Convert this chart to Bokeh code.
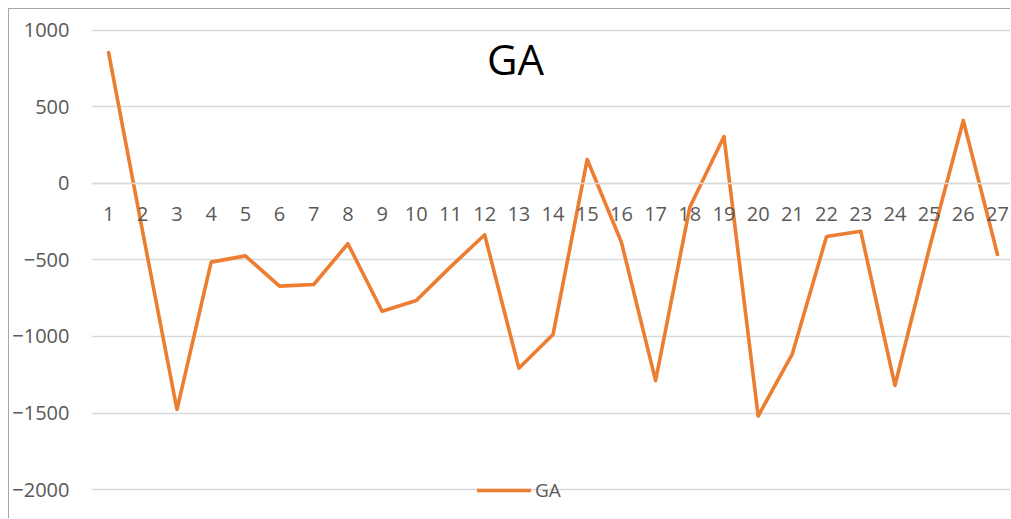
from bokeh.plotting import figure
from bokeh.models import Range1d, FixedTicker, Label
from bokeh.embed import file_html
from bokeh.resources import INLINE

categories = [str(i) for i in range(1, 28)]
ga_values = [855, -320, -1477, -514, -473, -671, -660, -394, -835, -765,
             -545, -335, -1207, -987, 157, -384, -1288, -155, 307, -1520,
             -1113, -346, -312, -1320, -430, 412, -464]
y_ticks = [-2000, -1500, -1000, -500, 0, 500, 1000]
title_text = "GA"
series_name = "GA"

x = list(range(1, len(categories) + 1))

p = figure(width=1002, height=510, output_backend="svg", toolbar_location=None,
           x_range=Range1d(0.5, 27.41), y_range=Range1d(-2196, 1137),
           min_border_left=81, min_border_right=0, min_border_top=0,
           min_border_bottom=0)
p.styles = {"margin-left": "8px", "margin-top": "8px",
            "border-left": "1px solid #a6a6a6", "border-top": "1px solid #a6a6a6"}
p.outline_line_color = None
p.background_fill_color = "white"
p.border_fill_color = "white"

p.line(x, ga_values, line_color="#ED7D31", line_width=3.6, line_join="round",
       line_cap="round", legend_label=series_name)

# y axis
p.yaxis.ticker = FixedTicker(ticks=y_ticks)
p.yaxis.axis_line_color = None
p.yaxis.major_tick_line_color = None
p.yaxis.minor_tick_line_color = None
p.yaxis.major_tick_out = 0
p.yaxis.minor_tick_out = 0
p.yaxis.axis_label_standoff = 0
p.yaxis.major_label_standoff = 22
p.yaxis.major_label_text_font = "Open Sans"
p.yaxis.major_label_text_font_size = "20px"
p.yaxis.major_label_text_color = "#595959"

# x axis at zero
p.xaxis.fixed_location = 0
p.xaxis.ticker = FixedTicker(ticks=x)
p.xaxis.major_label_overrides = {i: c for i, c in zip(x, categories)}
p.xaxis.axis_line_color = "#d9d9d9"
p.xaxis.axis_line_width = 1.5
p.xaxis.major_tick_line_color = None
p.xaxis.minor_tick_line_color = None
p.xaxis.major_label_standoff = 18
p.xaxis.major_label_text_font = "Open Sans"
p.xaxis.major_label_text_font_size = "20px"
p.xaxis.major_label_text_color = "#595959"

p.xgrid.grid_line_color = None
p.ygrid.ticker = FixedTicker(ticks=y_ticks)
p.ygrid.grid_line_color = "#d9d9d9"
p.ygrid.grid_line_width = 1.5

p.add_layout(Label(x=424, y=461, x_units="screen", y_units="screen", text=title_text,
                   text_font="Open Sans", text_font_size="42px", text_color="#000000",
                   text_align="center", text_baseline="alphabetic"))

lg = p.legend[0]
lg.location = (386, 16)
lg.padding = 0
lg.margin = 0
lg.border_line_color = None
lg.background_fill_alpha = 0
lg.glyph_width = 54
lg.glyph_height = 20
lg.label_standoff = 4
lg.label_text_font = "Open Sans"
lg.label_text_font_size = "19px"
lg.label_text_color = "#595959"

open("out.html", "w").write(file_html(p, INLINE))
